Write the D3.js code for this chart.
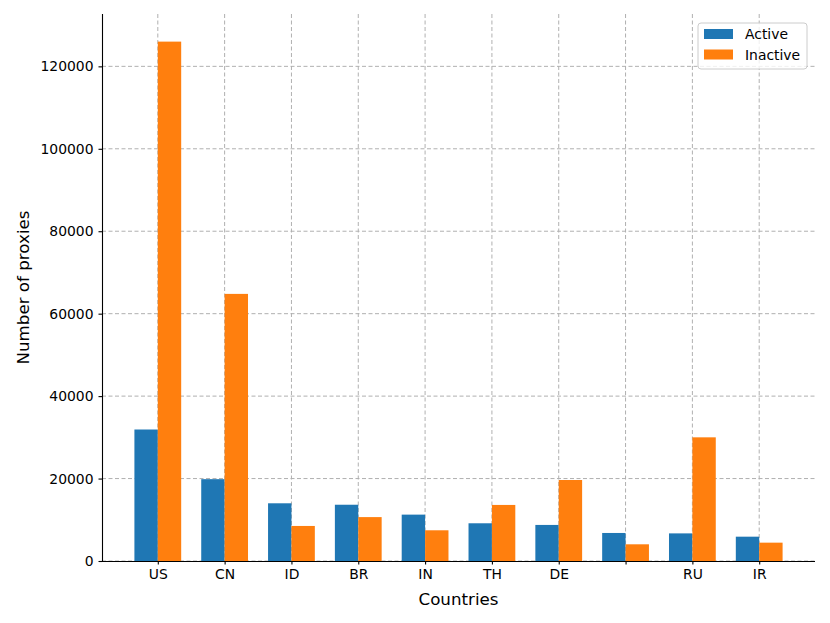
<!DOCTYPE html>
<html><head><meta charset="utf-8">
<script src="https://cdn.jsdelivr.net/npm/d3@7"></script>
<style>body{margin:0;background:#fff;} text{font-family:"DejaVu Sans",sans-serif;}</style>
</head><body>
<svg id="c" width="830" height="623"></svg>
<script>
const categories = ["US","CN","ID","BR","IN","TH","DE","","RU","IR"];
const activeValues = [31900,19850,14000,13650,11250,9150,8750,6800,6700,5900];
const inactiveValues = [126000,64800,8500,10650,7450,13600,19650,4050,30000,4450];
const yTicks = [0,20000,40000,60000,80000,100000,120000];
const seriesNames = ["Active","Inactive"];
const colors = ["#1f77b4","#ff7f0e"];

const svg = d3.select("#c");
const L=102, R=815, T=14, B=561;
const barW = 0.35;
const x = d3.scaleLinear().domain([-0.835, categories.length-1+0.835]).range([L,R]);
const y = d3.scaleLinear().domain([0,132700]).range([B,T]);

const g = svg.append("g");
// grid
g.selectAll(".hg").data(yTicks).enter().append("line")
  .attr("x1",L).attr("x2",R).attr("y1",d=>y(d)).attr("y2",d=>y(d))
  .attr("stroke","#b0b0b0").attr("stroke-width",1).attr("stroke-dasharray","4,2.5");
g.selectAll(".vg").data(categories).enter().append("line")
  .attr("x1",(d,i)=>x(i)).attr("x2",(d,i)=>x(i)).attr("y1",T).attr("y2",B)
  .attr("stroke","#b0b0b0").attr("stroke-width",1).attr("stroke-dasharray","4,2.5");

// bars
const px = x(barW)-x(0);
g.selectAll(".ba").data(activeValues).enter().append("rect")
  .attr("x",(d,i)=>x(i-barW)).attr("width",px)
  .attr("y",d=>y(d)).attr("height",d=>B-y(d)).attr("fill",colors[0]);
g.selectAll(".bi").data(inactiveValues).enter().append("rect")
  .attr("x",(d,i)=>x(i)).attr("width",px)
  .attr("y",d=>y(d)).attr("height",d=>B-y(d)).attr("fill",colors[1]);

// axes
const xAxis = d3.axisBottom(x).tickValues(d3.range(categories.length)).tickFormat(i=>categories[i]).tickSize(3.5).tickPadding(5);
const yAxis = d3.axisLeft(y).tickValues(yTicks).tickFormat(d3.format("d")).tickSize(3.5).tickPadding(5);
const xa = svg.append("g").attr("transform",`translate(0,${B})`).call(xAxis);
const ya = svg.append("g").attr("transform",`translate(${L},0)`).call(yAxis);
[xa,ya].forEach(a=>{
  a.select(".domain").attr("stroke","#000").attr("stroke-width",1.1);
  a.selectAll(".tick line").attr("stroke","#000").attr("stroke-width",1.1);
  a.selectAll(".tick text").attr("fill","#000").style("font-size","13.9px").style("font-family","DejaVu Sans");
});
xa.select(".domain").attr("d",`M${L},0.5H${R}`);
ya.select(".domain").attr("d",`M0.5,${B}V${T}`);

// labels
svg.append("text").attr("x",(L+R)/2).attr("y",605).attr("text-anchor","middle")
  .style("font-size","16.7px").text("Countries");
svg.append("text").attr("transform",`translate(29,${(T+B)/2}) rotate(-90)`).attr("text-anchor","middle")
  .style("font-size","16.7px").text("Number of proxies");

// legend
const lg = svg.append("g");
lg.append("rect").attr("x",698).attr("y",23).attr("width",109).attr("height",46).attr("rx",3)
  .attr("fill","#fff").attr("fill-opacity",0.8).attr("stroke","#cccccc").attr("stroke-width",1);
seriesNames.forEach((n,i)=>{
  lg.append("rect").attr("x",704).attr("y",29+i*20.5).attr("width",29).attr("height",10).attr("fill",colors[i]);
  lg.append("text").attr("x",745).attr("y",39+i*20.5).style("font-size","13.9px").text(n);
});
</script>
</body></html>
